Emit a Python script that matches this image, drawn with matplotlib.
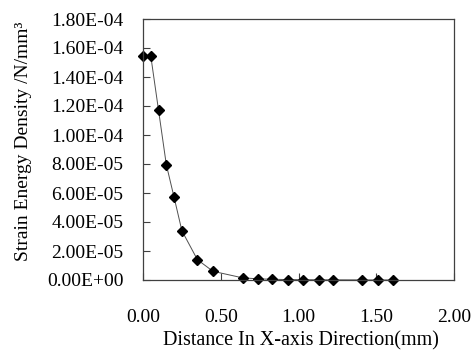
import matplotlib
matplotlib.use("Agg")
import matplotlib.pyplot as plt
from matplotlib.ticker import FuncFormatter

x_mm = [0.00, 0.05, 0.10, 0.15, 0.20, 0.25, 0.35, 0.45, 0.64, 0.74, 0.83, 0.93,
        1.03, 1.13, 1.22, 1.41, 1.51, 1.61]
sed = [1.545e-4, 1.545e-4, 1.17e-4, 7.95e-5, 5.7e-5, 3.4e-5, 1.4e-5, 6.0e-6,
       1.5e-6, 8e-7, 5e-7, 3e-7, 2e-7, 1.5e-7, 1e-7, 5e-8, 3e-8, 2e-8]

x_ticks = [0.0, 0.5, 1.0, 1.5, 2.0]
y_ticks = [0, 2e-5, 4e-5, 6e-5, 8e-5, 1e-4, 1.2e-4, 1.4e-4, 1.6e-4, 1.8e-4]

plt.rcParams['font.family'] = ['Liberation Serif', 'DejaVu Serif']

fig = plt.figure(figsize=(4.72, 3.51), dpi=100)
ax = fig.add_axes([143/472, 1-280/351, (454-143)/472, (280-19)/351])

ax.plot(x_mm, sed, color='#505050', linewidth=0.7, marker='D',
        markersize=5.5, markerfacecolor='black', markeredgecolor='black', clip_on=False)

ax.set_xlim(0, 2.0)
ax.set_ylim(0, 1.8e-4)
ax.set_xticks(x_ticks)
ax.set_yticks(y_ticks)
ax.xaxis.set_major_formatter(FuncFormatter(lambda v, p: f"{v:.2f}"))
ax.yaxis.set_major_formatter(FuncFormatter(lambda v, p: f"{v:.2E}"))
ax.tick_params(axis='both', direction='in', length=5, width=0.8, colors='#404040',
               labelcolor='black', labelsize=14)
ax.tick_params(axis='x', pad=21)
ax.tick_params(axis='y', pad=14)
for s in ax.spines.values():
    s.set_color('#404040')
    s.set_linewidth(0.9)

ax.set_xlabel('Distance In X-axis Direction(mm)', fontsize=14.5, va='center')
ax.set_ylabel('Strain Energy Density /N/mm³', fontsize=14, va='center')
ax.xaxis.set_label_coords((301-143)/311, (280-341)/261)
ax.yaxis.set_label_coords((24-143)/311, (280-141)/261)

fig.savefig('out.png', dpi=100)
